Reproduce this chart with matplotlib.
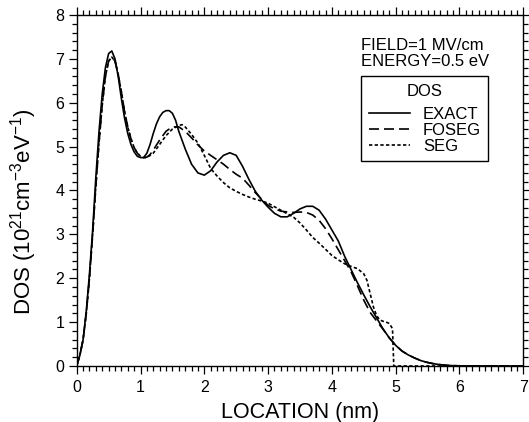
import matplotlib
matplotlib.use("Agg")
import matplotlib.pyplot as plt
from matplotlib.ticker import MultipleLocator

plt.rcParams["font.family"] = ["Liberation Sans", "DejaVu Sans"]
plt.rcParams["mathtext.fontset"] = "custom"
plt.rcParams["mathtext.rm"] = "Liberation Sans"
plt.rcParams["mathtext.it"] = "Liberation Sans:italic"

# 数据
x_exact = [0, 0.05, 0.1, 0.15, 0.2, 0.25, 0.3, 0.35, 0.4, 0.45, 0.5, 0.55, 0.6, 0.65, 0.7,
           0.75, 0.8, 0.85, 0.9, 0.95, 1.0, 1.05, 1.1, 1.15, 1.2, 1.25, 1.3, 1.35, 1.4, 1.45,
           1.5, 1.55, 1.6, 1.7, 1.8, 1.9, 2.0, 2.1, 2.2, 2.3, 2.4, 2.5, 2.6, 2.7, 2.8, 2.9,
           3.0, 3.1, 3.2, 3.3, 3.4, 3.5, 3.6, 3.7, 3.8, 3.9, 4.0, 4.1, 4.2, 4.3, 4.4, 4.5,
           4.6, 4.7, 4.8, 4.9, 5.0, 5.1, 5.2, 5.3, 5.4, 5.5, 5.6, 5.7, 5.8, 5.9, 6.0, 6.5, 7.0]
y_exact = [0, 0.25, 0.6, 1.25, 2.1, 3.1, 4.3, 5.35, 6.2, 6.8, 7.12, 7.18, 7.0, 6.6, 6.1,
           5.65, 5.3, 5.05, 4.88, 4.78, 4.75, 4.75, 4.85, 5.05, 5.3, 5.52, 5.68, 5.78, 5.82, 5.82,
           5.76, 5.6, 5.35, 4.95, 4.6, 4.4, 4.35, 4.45, 4.65, 4.8, 4.86, 4.8, 4.55, 4.25, 3.98, 3.78,
           3.62, 3.48, 3.4, 3.4, 3.48, 3.58, 3.64, 3.64, 3.55, 3.35, 3.1, 2.85, 2.5, 2.2, 1.9, 1.62,
           1.35, 1.1, 0.85, 0.64, 0.47, 0.34, 0.25, 0.18, 0.12, 0.08, 0.05, 0.03, 0.015, 0.008, 0.004, 0, 0]

x_foseg = [0, 0.05, 0.1, 0.15, 0.2, 0.25, 0.3, 0.35, 0.4, 0.45, 0.5, 0.55, 0.6, 0.65, 0.7,
           0.75, 0.8, 0.85, 0.9, 0.95, 1.0, 1.05, 1.1, 1.15, 1.2, 1.3, 1.4, 1.5, 1.6, 1.7,
           1.8, 1.9, 2.0, 2.1, 2.2, 2.3, 2.4, 2.5, 2.6, 2.7, 2.8, 2.9, 3.0, 3.1, 3.2, 3.3,
           3.4, 3.5, 3.6, 3.7, 3.8, 3.9, 4.0, 4.1, 4.2, 4.3, 4.4, 4.5, 4.6, 4.7, 4.8, 4.9,
           5.0, 5.1, 5.2, 5.3, 5.4, 5.5, 5.6, 5.7, 5.8, 5.9, 6.0, 6.5, 7.0]
y_foseg = [0, 0.25, 0.6, 1.2, 2.0, 3.0, 4.1, 5.1, 5.95, 6.6, 6.95, 7.04, 6.95, 6.65, 6.25,
           5.8, 5.45, 5.18, 4.98, 4.85, 4.78, 4.75, 4.76, 4.82, 4.92, 5.15, 5.35, 5.45, 5.45, 5.35,
           5.2, 5.04, 4.9, 4.8, 4.7, 4.6, 4.48, 4.37, 4.28, 4.12, 3.95, 3.8, 3.66, 3.58, 3.53, 3.51,
           3.5, 3.51, 3.5, 3.44, 3.32, 3.13, 2.9, 2.65, 2.4, 2.15, 1.83, 1.5, 1.22, 1.03, 0.84, 0.64,
           0.47, 0.34, 0.25, 0.18, 0.12, 0.08, 0.05, 0.03, 0.015, 0.008, 0.004, 0, 0]

x_seg = [0, 0.05, 0.1, 0.15, 0.2, 0.25, 0.3, 0.35, 0.4, 0.45, 0.5, 0.55, 0.6, 0.65, 0.7,
         0.75, 0.8, 0.85, 0.9, 0.95, 1.0, 1.05, 1.1, 1.2, 1.3, 1.4, 1.5, 1.6, 1.65, 1.7,
         1.8, 1.9, 2.0, 2.1, 2.2, 2.3, 2.4, 2.5, 2.6, 2.7, 2.8, 2.9, 3.0, 3.1, 3.2, 3.3,
         3.4, 3.5, 3.6, 3.7, 3.8, 3.9, 4.0, 4.1, 4.2, 4.3, 4.4, 4.5, 4.55, 4.6, 4.65, 4.7,
         4.75, 4.8, 4.85, 4.9, 4.95, 4.97, 5.0, 7.0]
y_seg = [0, 0.25, 0.6, 1.2, 2.0, 3.0, 4.1, 5.1, 5.95, 6.6, 6.95, 7.04, 6.95, 6.65, 6.25,
         5.8, 5.45, 5.18, 4.98, 4.85, 4.78, 4.75, 4.75, 4.85, 5.05, 5.25, 5.4, 5.48, 5.5, 5.45,
         5.28, 5.08, 4.8, 4.5, 4.33, 4.18, 4.06, 3.98, 3.91, 3.85, 3.8, 3.76, 3.71, 3.63, 3.55, 3.47,
         3.39, 3.26, 3.1, 2.93, 2.8, 2.66, 2.52, 2.42, 2.33, 2.27, 2.22, 2.1, 1.95, 1.65, 1.35, 1.15,
         1.05, 1.02, 1.0, 0.97, 0.85, 0.0, 0, 0]

fig = plt.figure(figsize=(5.29, 4.22), dpi=100)
ax = fig.add_axes([0.145, 0.1327, 0.8442, 0.8318])

ax.plot(x_exact, y_exact, color="k", lw=1.2, label="EXACT")
ax.plot(x_foseg, y_foseg, color="k", lw=1.2, dashes=(6, 3), label="FOSEG")
ax.plot(x_seg, y_seg, color="k", lw=1.2, dashes=(2, 1.4), label="SEG")

ax.set_xlim(0, 7)
ax.set_ylim(0, 8)
ax.xaxis.set_major_locator(MultipleLocator(1))
ax.xaxis.set_minor_locator(MultipleLocator(0.1))
ax.yaxis.set_major_locator(MultipleLocator(1))
ax.yaxis.set_minor_locator(MultipleLocator(0.2))
ax.tick_params(which="both", direction="out", top=True, right=True, width=0.9, labelsize=11.5)
ax.tick_params(which="major", length=6)
ax.tick_params(which="minor", length=3.5)
ax.tick_params(axis="x", pad=4)
ax.tick_params(axis="y", pad=3)
for s in ax.spines.values():
    s.set_linewidth(1.0)

ax.set_xlabel("LOCATION (nm)", fontsize=15.5, labelpad=5)
ax.set_ylabel("DOS (10$^{21}$cm$^{-3}$eV$^{-1}$)", fontsize=16)
ax.yaxis.set_label_coords(-0.084, 0.44)

ax.text(0.637, 0.900, "FIELD=1 MV/cm", transform=ax.transAxes, fontsize=12)
ax.text(0.637, 0.855, "ENERGY=0.5 eV", transform=ax.transAxes, fontsize=12)

leg = ax.legend(loc="upper left", bbox_to_anchor=(0.637, 0.826), title="DOS",
                fontsize=12, title_fontsize=12, frameon=True, fancybox=False,
                edgecolor="k", framealpha=1, handlelength=2.5, handletextpad=0.75,
                labelspacing=0.05, borderpad=0.45, borderaxespad=0)
leg._legend_box.sep = 6  # 标题与条目之间留空
leg.get_frame().set_linewidth(1.0)

plt.savefig("out.png", dpi=100)
